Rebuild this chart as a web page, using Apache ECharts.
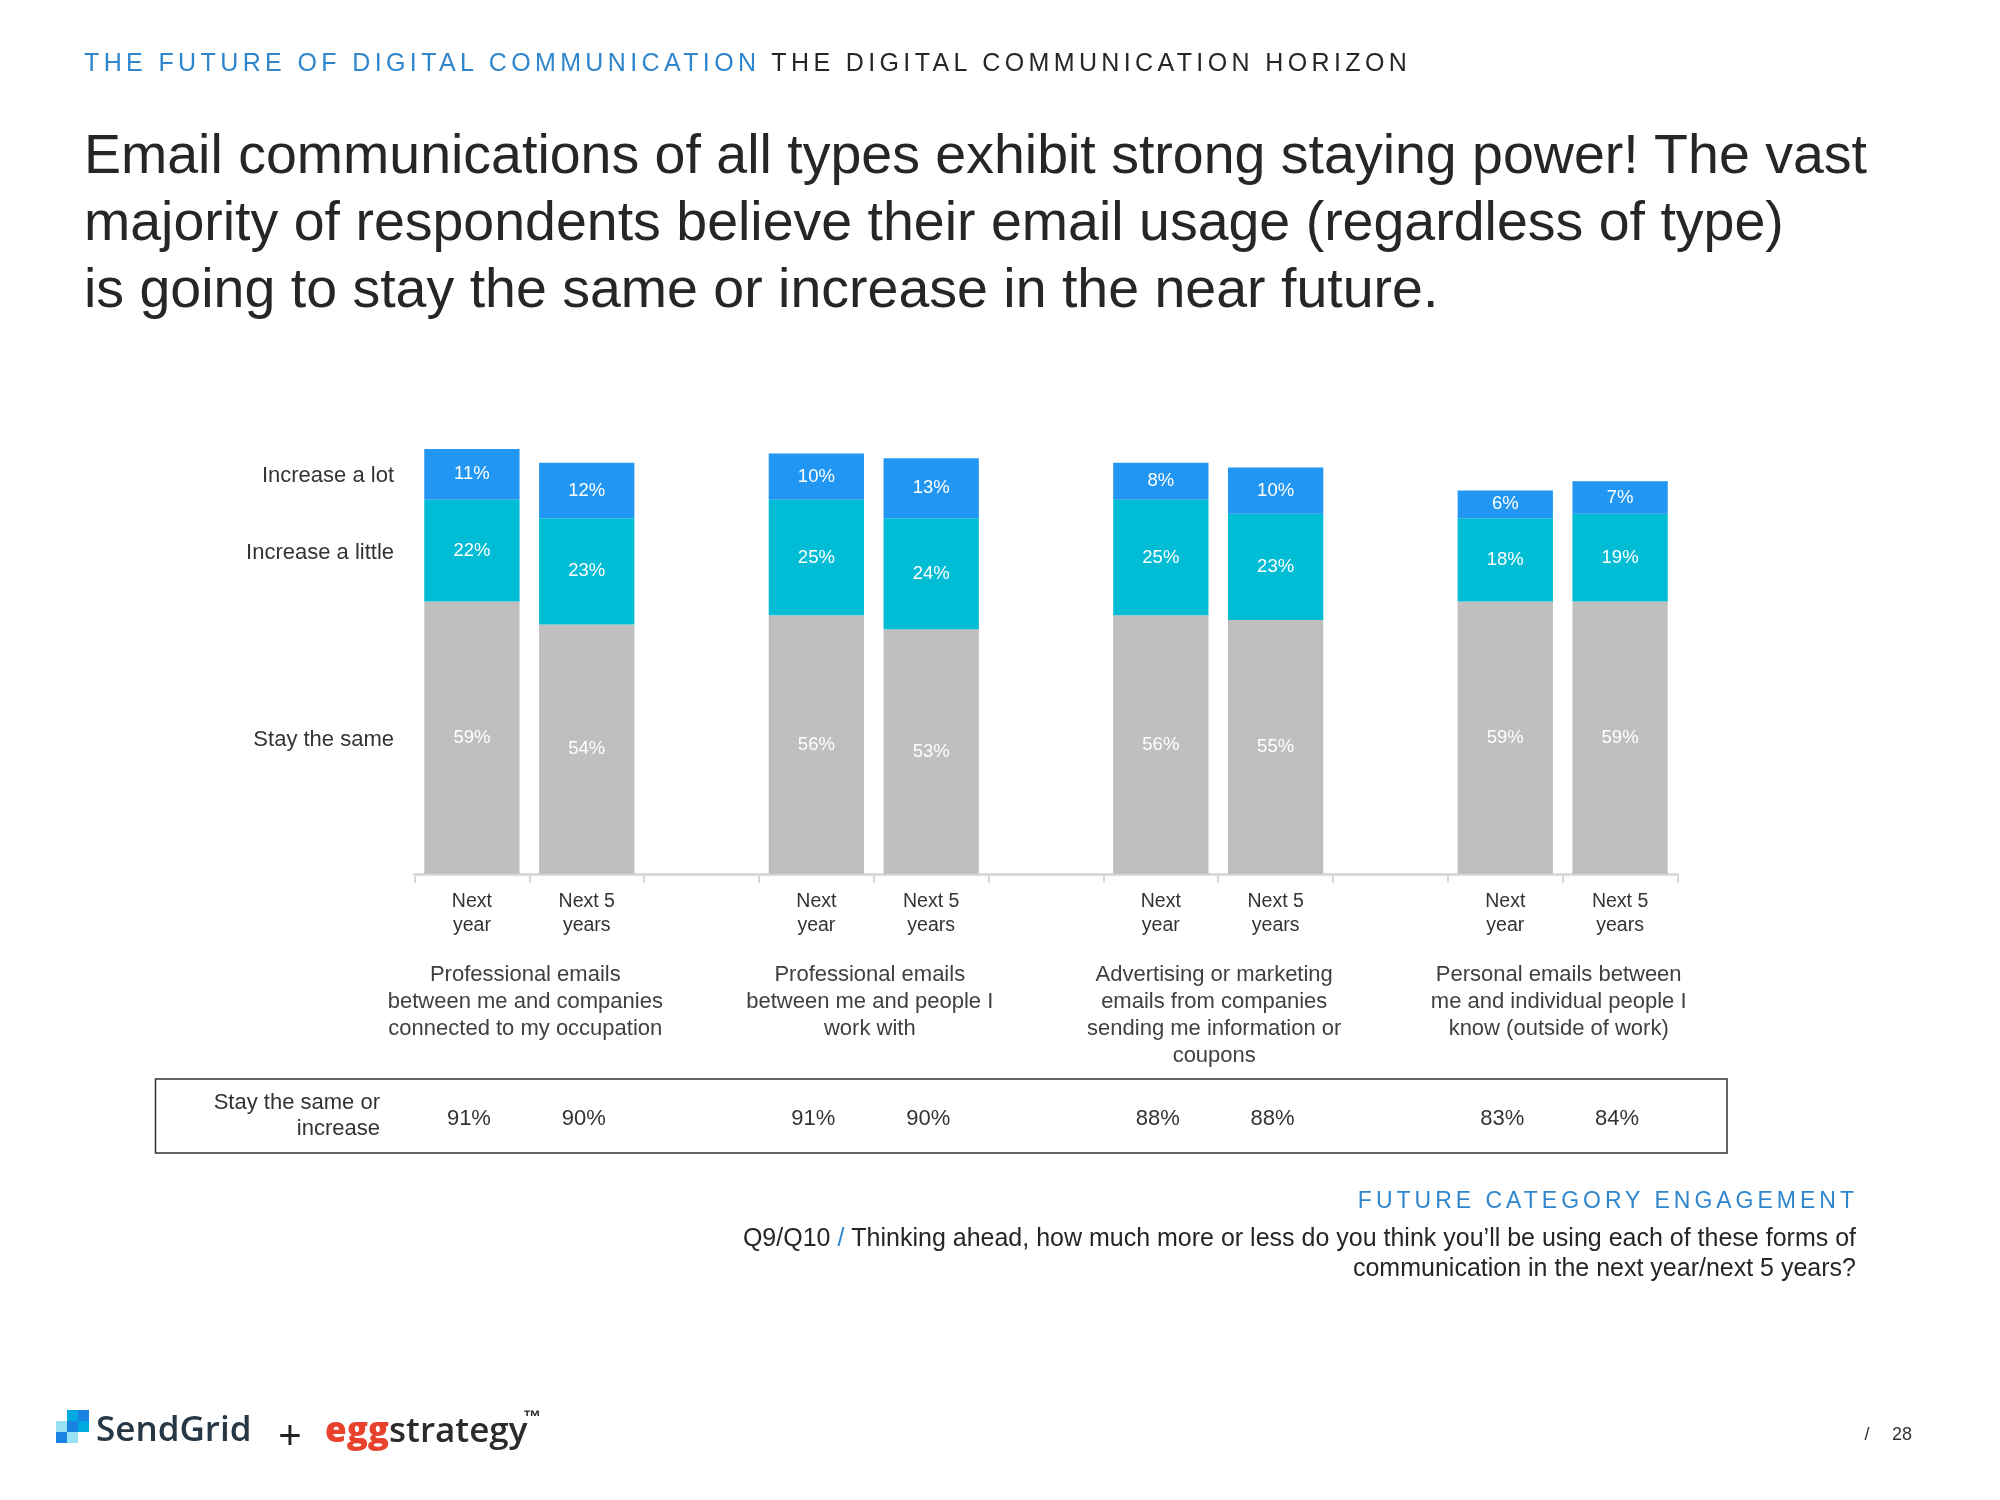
<!DOCTYPE html>
<html>
<head>
<meta charset="utf-8">
<script src="https://cdn.jsdelivr.net/npm/echarts@6/dist/echarts.min.js"></script>
<style>
html,body{margin:0;padding:0;background:#ffffff;}
#chart{position:absolute;left:0;top:0;width:2000px;height:1500px;}
.cap{position:absolute;font-family:'Liberation Sans',Arial,sans-serif;white-space:nowrap;}
</style>
</head>
<body>
<div id="chart"></div>
<div class="cap" style="left:84px;top:47px;font-size:25px;line-height:30px;letter-spacing:4.38px;"><span style="color:#2F86CC">THE FUTURE OF DIGITAL COMMUNICATION</span> <span style="color:#262626">THE DIGITAL COMMUNICATION HORIZON</span></div>
<div class="cap" style="right:142px;top:1186px;font-size:23px;line-height:28px;letter-spacing:4px;color:#2F86CC">FUTURE CATEGORY ENGAGEMENT</div>
<script>
// ---------- data ----------
const periods = ['Next\nyear', 'Next 5\nyears'];
const groups = [
  'Professional emails\nbetween me and companies\nconnected to my occupation',
  'Professional emails\nbetween me and people I\nwork with',
  'Advertising or marketing\nemails from companies\nsending me information or\ncoupons',
  'Personal emails between\nme and individual people I\nknow (outside of work)'
];
const seriesNames = ['Stay the same', 'Increase a little', 'Increase a lot'];
const stay   = [59, 54, 56, 53, 56, 55, 59, 59];
const little = [22, 23, 25, 24, 25, 23, 18, 19];
const lot    = [11, 12, 10, 13, 8, 10, 6, 7];
const combinedLabel = 'Stay the same or\nincrease';
const combined = [91, 90, 91, 90, 88, 88, 83, 84];

const titleText = 'Email communications of all types exhibit strong staying power! The vast\nmajority of respondents believe their email usage (regardless of type)\nis going to stay the same or increase in the near future.';
const questionId = 'Q9/Q10';
const questionLine1 = 'Thinking ahead, how much more or less do you think you\u2019ll be using each of these forms of';
const questionLine2 = 'communication in the next year/next 5 years?';

// ---------- build category slots (blank slot between groups) ----------
const categories = [];
const slotOfBar = [];
groups.forEach((g, gi) => {
  periods.forEach(p => { slotOfBar.push(categories.length); categories.push(p); });
  if (gi < groups.length - 1) categories.push('');
});
function slotData(arr) {
  const d = categories.map(() => '-');
  arr.forEach((v, i) => { d[slotOfBar[i]] = v; });
  return d;
}

const FONT = "'Liberation Sans', Arial, sans-serif";
const colors = ['#BFBFBF', '#00BCD4', '#2196F3'];
const chart = echarts.init(document.getElementById('chart'), null, {width: 2000, height: 1500});

const seriesVals = [stay, little, lot];
chart.setOption({
  animation: false,
  backgroundColor: '#ffffff',
  grid: {left: 414.5, top: 412, width: 1263, height: 462, containLabel: false, outerBoundsMode: 'none'},
  xAxis: {
    type: 'category',
    data: categories,
    axisLine: {lineStyle: {color: '#DADADA', width: 3}},
    axisTick: {show: true, interval: 0, length: 9, lineStyle: {color: '#DADADA', width: 2}},
    axisLabel: {interval: 0, color: '#333333', fontFamily: FONT, fontSize: 19.5, lineHeight: 24.5, margin: 15}
  },
  yAxis: {type: 'value', min: 0, max: 100, show: false},
  series: seriesNames.map((n, i) => ({
    name: n,
    type: 'bar',
    stack: 'total',
    barCategoryGap: '17%',
    data: slotData(seriesVals[i]),
    itemStyle: {color: colors[i]},
    label: {show: true, position: 'inside', color: '#ffffff', fontFamily: FONT, fontSize: 18.5, formatter: '{c}%'}
  }))
});

// ---------- annotations positioned through the chart's scales ----------
const px = (x, y) => chart.convertToPixel({gridIndex: 0}, [x, y]);
const g = [];
const textColor = '#333333';

g.push({type: 'text', left: 84, top: 124, style: {text: titleText, fontFamily: FONT, fontSize: 55.5, lineHeight: 67, fill: '#262626'}});

// row labels at the first bar's segment centres
const s0 = slotOfBar[0];
const rowY = [stay[0] / 2, stay[0] + little[0] / 2, stay[0] + little[0] + lot[0] / 2];
seriesNames.forEach((n, i) => {
  const p = px(s0, rowY[i]);
  g.push({type: 'text', x: 394, y: p[1] + 2, style: {text: n, fontFamily: FONT, fontSize: 22, fill: textColor, align: 'right', verticalAlign: 'middle'}});
});

// group labels
groups.forEach((name, gi) => {
  const a = px(slotOfBar[gi * 2], 0)[0];
  const b = px(slotOfBar[gi * 2 + 1], 0)[0];
  g.push({type: 'text', x: (a + b) / 2 - 4, y: 961, style: {text: name, fontFamily: FONT, fontSize: 22, lineHeight: 27, fill: '#404040', align: 'center', verticalAlign: 'top'}});
});

// summary table
g.push({type: 'rect', shape: {x: 155.5, y: 1079, width: 1571.5, height: 74}, style: {fill: 'none', stroke: '#333333', lineWidth: 1.5}});
g.push({type: 'text', x: 380, y: 1116, style: {text: combinedLabel, fontFamily: FONT, fontSize: 22, lineHeight: 26, fill: textColor, align: 'right', verticalAlign: 'middle'}});
combined.forEach((v, i) => {
  const p = px(slotOfBar[i], 0);
  g.push({type: 'text', x: p[0] - 3, y: 1119, style: {text: v + '%', fontFamily: FONT, fontSize: 22, fill: textColor, align: 'center', verticalAlign: 'middle'}});
});

// question
g.push({type: 'text', x: 1856, y: 1239, style: {
  text: '{a|' + questionId + ' }{b|/}{a| ' + questionLine1 + '}',
  align: 'right', verticalAlign: 'middle',
  rich: {a: {fontFamily: FONT, fontSize: 25, fill: '#262626'}, b: {fontFamily: FONT, fontSize: 25, fill: '#2F86CC'}}
}});
g.push({type: 'text', x: 1856, y: 1269, style: {text: questionLine2, fontFamily: FONT, fontSize: 25, fill: '#262626', align: 'right', verticalAlign: 'middle'}});

// logo
const cell = 11;
const icon = [
  [1, 0, '#00A9E0'], [2, 0, '#1A82E2'],
  [0, 1, '#99E1F4'], [1, 1, '#1A82E2'], [2, 1, '#00A9E0'],
  [0, 2, '#1A82E2'], [1, 2, '#99E1F4']
];
icon.forEach(c => g.push({type: 'rect', shape: {x: 56 + c[0] * cell, y: 1410 + c[1] * cell, width: cell, height: cell}, style: {fill: c[2]}}));
g.push({type: 'text', x: 96, y: 1431, style: {text: 'SendGrid', fontFamily: "'Open Sans', sans-serif", fontWeight: 600, fontSize: 35, fill: '#263746', verticalAlign: 'middle'}});
g.push({type: 'text', x: 290, y: 1438, style: {text: '+', fontFamily: FONT, fontSize: 40, fill: '#222222', align: 'center', verticalAlign: 'middle'}});
g.push({type: 'text', x: 325, y: 1432, style: {
  text: '{e|egg}{s|strategy}', verticalAlign: 'middle',
  rich: {e: {fontFamily: "'Open Sans', sans-serif", fontWeight: 800, fontSize: 35, fill: '#E8412C'}, s: {fontFamily: "'Open Sans', sans-serif", fontWeight: 600, fontSize: 35, fill: '#2B2B2B'}}
}});
g.push({type: 'text', x: 523, y: 1418, style: {text: '\u2122', fontFamily: FONT, fontWeight: 'bold', fontSize: 18, fill: '#2B2B2B', verticalAlign: 'middle'}});

// page number
g.push({type: 'text', x: 1867, y: 1435, style: {text: '/', fontFamily: FONT, fontSize: 18, fill: '#333333', align: 'center', verticalAlign: 'middle'}});
g.push({type: 'text', x: 1892, y: 1435, style: {text: '28', fontFamily: FONT, fontSize: 18, fill: '#333333', verticalAlign: 'middle'}});

chart.setOption({graphic: g});
</script>
</body>
</html>
